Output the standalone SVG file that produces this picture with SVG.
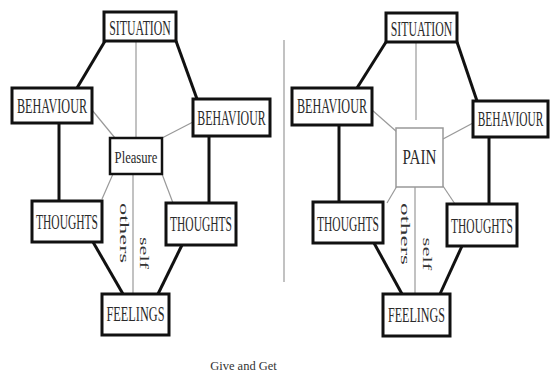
<svg xmlns="http://www.w3.org/2000/svg" width="552" height="380" viewBox="0 0 552 380">
<style>
.box{fill:#fff;stroke:#111;stroke-width:3}
.pbox{fill:#fff;stroke:#111;stroke-width:2.5}
.gbox{fill:#fff;stroke:#999;stroke-width:1.5}
.lbl{font-family:"Liberation Serif",serif;font-size:20px;fill:#2a2a2a;text-anchor:middle}
.sm{font-family:"Liberation Serif",serif;font-size:16px;fill:#2a2a2a;text-anchor:middle}
.rot{font-family:"Liberation Serif",serif;font-size:13px;fill:#333;text-anchor:middle;dominant-baseline:central}
.thick{stroke:#111;stroke-width:3;fill:none}
.thin{stroke:#999;stroke-width:1.2;fill:none}
.cap{font-family:"Liberation Serif",serif;font-size:13px;fill:#333;text-anchor:middle}
</style>
<rect width="552" height="380" fill="#fff"/>
<g id="connectors">
<line class="thin" x1="284" y1="40" x2="284" y2="282" stroke="#ccc"/>
<line class="thick" x1="105" y1="41" x2="77" y2="88"/>
<line class="thick" x1="176" y1="41" x2="197" y2="99"/>
<line class="thin" x1="136" y1="41" x2="136" y2="138"/>
<line class="thin" x1="92" y1="110" x2="115" y2="138"/>
<line class="thin" x1="193" y1="122" x2="162" y2="138"/>
<line class="thick" x1="59" y1="123" x2="59" y2="201"/>
<line class="thick" x1="209" y1="136" x2="209" y2="203"/>
<line class="thin" x1="113" y1="174" x2="102" y2="199"/>
<line class="thin" x1="162" y1="174" x2="173" y2="203"/>
<line class="thin" x1="133" y1="174" x2="133" y2="294"/>
<line class="thick" x1="93" y1="242" x2="123" y2="294"/>
<line class="thick" x1="182" y1="245" x2="158" y2="294"/>
<line class="thick" x1="386" y1="42" x2="357" y2="88"/>
<line class="thick" x1="457" y1="42" x2="477" y2="101"/>
<line class="thin" x1="416" y1="42" x2="416" y2="120"/>
<line class="thin" x1="372" y1="110" x2="397" y2="132"/>
<line class="thin" x1="473" y1="123" x2="443" y2="139"/>
<line class="thick" x1="339" y1="125" x2="339" y2="202"/>
<line class="thick" x1="489" y1="137" x2="489" y2="204"/>
<line class="thin" x1="397" y1="186" x2="387" y2="203"/>
<line class="thin" x1="443" y1="186" x2="455" y2="204"/>
<line class="thin" x1="415" y1="183" x2="415" y2="294"/>
<line class="thick" x1="374" y1="243" x2="402" y2="294"/>
<line class="thick" x1="462" y1="246" x2="440" y2="294"/>
</g>
<g id="L-situation"><rect class="box" x="104" y="12" width="72" height="29"/><text class="lbl" transform="translate(140,35) scale(0.59,1)">SITUATION</text></g>
<g id="L-behaviour-left"><rect class="box" x="12" y="88" width="80" height="35"/><text class="lbl" transform="translate(52,113) scale(0.61,1)">BEHAVIOUR</text></g>
<g id="L-behaviour-right"><rect class="box" x="193" y="99" width="77" height="37"/><text class="lbl" transform="translate(231.5,125) scale(0.594,1)">BEHAVIOUR</text></g>
<g id="L-pleasure"><rect class="pbox" x="110" y="138" width="52" height="36"/><text class="sm" transform="translate(136,163) scale(0.79,1)">Pleasure</text></g>
<g id="L-thoughts-left"><rect class="box" x="32" y="201" width="70" height="41"/><text class="lbl" transform="translate(67,229) scale(0.575,1)">THOUGHTS</text></g>
<g id="L-thoughts-right"><rect class="box" x="166" y="203" width="70" height="42"/><text class="lbl" transform="translate(201,231) scale(0.575,1)">THOUGHTS</text></g>
<g id="L-feelings"><rect class="box" x="102" y="294" width="67" height="41"/><text class="lbl" transform="translate(135.5,321) scale(0.614,1)">FEELINGS</text></g>
<g id="L-others"><text class="rot" transform="translate(124,233) rotate(90)" textLength="60" lengthAdjust="spacingAndGlyphs">others</text></g>
<g id="L-self"><text class="rot" transform="translate(144,253) rotate(90)" textLength="32" lengthAdjust="spacingAndGlyphs">self</text></g>
<g id="R-situation"><rect class="box" x="386" y="13" width="71" height="29"/><text class="lbl" transform="translate(421.5,36) scale(0.59,1)">SITUATION</text></g>
<g id="R-behaviour-left"><rect class="box" x="292" y="88" width="80" height="37"/><text class="lbl" transform="translate(332,113) scale(0.61,1)">BEHAVIOUR</text></g>
<g id="R-behaviour-right"><rect class="box" x="473" y="101" width="75" height="36"/><text class="lbl" transform="translate(510.5,126) scale(0.57,1)">BEHAVIOUR</text></g>
<g id="R-pain"><rect class="gbox" x="396" y="128" width="47" height="59"/><text class="lbl" font-size="17" transform="translate(419.5,164) scale(0.756,1)">PAIN</text></g>
<g id="R-thoughts-left"><rect class="box" x="313" y="202" width="70" height="41"/><text class="lbl" transform="translate(348,231) scale(0.575,1)">THOUGHTS</text></g>
<g id="R-thoughts-right"><rect class="box" x="447" y="204" width="70" height="42"/><text class="lbl" transform="translate(482,233) scale(0.575,1)">THOUGHTS</text></g>
<g id="R-feelings"><rect class="box" x="383" y="294" width="67" height="42"/><text class="lbl" transform="translate(416.5,322) scale(0.604,1)">FEELINGS</text></g>
<g id="R-others"><text class="rot" transform="translate(405,234) rotate(90)" textLength="62" lengthAdjust="spacingAndGlyphs">others</text></g>
<g id="R-self"><text class="rot" transform="translate(427,254) rotate(90)" textLength="33" lengthAdjust="spacingAndGlyphs">self</text></g>
<text class="cap" transform="translate(243.5,370) scale(0.96,1)">Give and Get</text>
</svg>
